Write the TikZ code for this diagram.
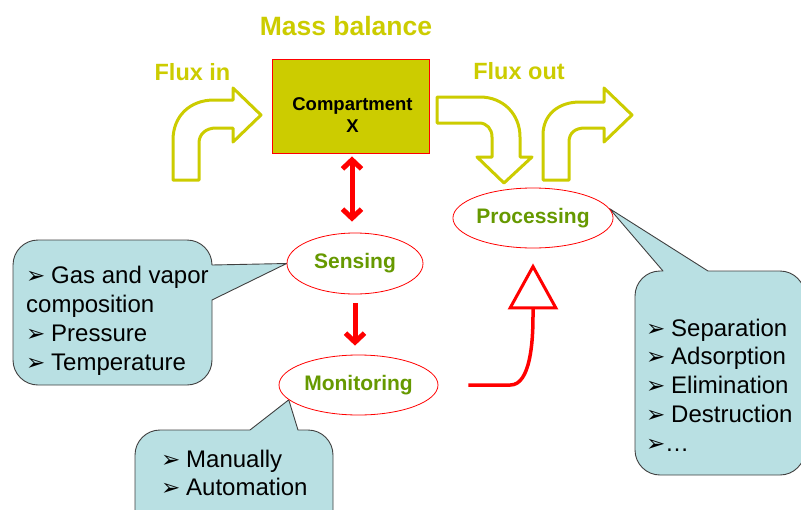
\documentclass[tikz,border=0pt]{standalone}
\usepackage{fontspec}
\setmainfont{Liberation Sans}
\newfontfamily\symfont{DejaVu Sans}
\usetikzlibrary{arrows.meta,shapes.geometric,backgrounds}

\definecolor{fluxyellow}{RGB}{204,204,0}
\definecolor{leafgreen}{RGB}{102,153,0}
\definecolor{calloutblue}{RGB}{185,224,227}

% arrowhead bullet used in the lists, in a box of fixed width
\newcommand\bul{\makebox[25pt][l]{\symfont\fontsize{23}{23}\selectfont ➢}}
\newcommand\bulnarrow{\makebox[19pt][l]{\symfont\fontsize{23}{23}\selectfont ➢}}

\begin{document}
\begin{tikzpicture}[x=1pt,y=-1pt,
  fluxarrow/.style={draw=fluxyellow, line width=3pt, fill=white, line join=round},
  heading/.style={anchor=base, inner sep=0, text=fluxyellow, font=\bfseries\fontsize{23.5}{28}\selectfont},
  ovalnode/.style={ellipse, draw=red, line width=0.8pt, fill=white, minimum height=60,
    inner sep=0, text=leafgreen, font=\bfseries\fontsize{21}{25}\selectfont},
  callout/.style={draw=black!75, line width=0.9pt, fill=calloutblue, line join=round},
  listtext/.style={anchor=base west, inner sep=0, font=\fontsize{24}{28}\selectfont},
  barb/.tip={Straight Barb[length=9pt,width=19pt]},
  redlink/.style={draw=red, line width=5pt, line join=round, arrows={-barb}},
]
\useasboundingbox (0,0) rectangle (801,509);
\clip (0,0) rectangle (801,509);

% ---- titles
\node[heading, font=\bfseries\fontsize{26.5}{30}\selectfont] (title) at (346,35) {Mass balance};
\node[heading] (fluxin) at (192.5,80) {Flux in};
\node[heading] (fluxout) at (519,79) {Flux out};

% ---- compartment
\node[draw=red, line width=0.8pt, fill=fluxyellow, minimum width=157, minimum height=94,
  inner sep=0] (comp) at (350.5,106) {};
\node[anchor=base, inner sep=0, font=\bfseries\fontsize{18.5}{22}\selectfont] (compname)
  at (352.5,110) {Compartment};
\node[anchor=base, inner sep=0, font=\bfseries\fontsize{18.5}{22}\selectfont] (compx)
  at (352.5,132) {X};

% ---- bent flux arrows
\path[fluxarrow] (173,180) -- (173,140) .. controls (173,116) and (190,100) .. (214,100)
  -- (233,100) -- (233,88) -- (261,115) -- (233,142) -- (233,128) -- (216,128)
  .. controls (206,128) and (199,134) .. (199,143) -- (199,180) -- cycle;
\path[fluxarrow] (437,97) -- (480,97) .. controls (503,97) and (520,114) .. (520,137)
  -- (520,157) -- (532,157) -- (504,183) -- (477,157) -- (492,157) -- (492,137)
  .. controls (492,129) and (487,123) .. (479,123) -- (437,123) -- cycle;
\path[fluxarrow] (543,180) -- (543,135) .. controls (543,115) and (558,102) .. (580,102)
  -- (604,102) -- (604,88) -- (632,115) -- (604,142) -- (604,128) -- (585,128)
  .. controls (575,128) and (569,133) .. (569,142) -- (569,180) -- cycle;

% ---- process ovals
\node[ovalnode, minimum width=136, minimum height=61] (sens) at (355,263.5) {Sensing};
\node[ovalnode, minimum width=159] (mon) at (358.5,385) {Monitoring};
\node[ovalnode, minimum width=160] (proc) at (533,218) {Processing};

% ---- red links
\draw[redlink, arrows={barb-barb}, shorten <=3pt, shorten >=11pt]
  ([xshift=1.5pt]comp.south) -- ([xshift=1.5pt]comp.south |- sens.north);
\draw[redlink, shorten <=9pt, shorten >=9pt] (sens.south) -- (sens.south |- mon.north);
\draw[draw=red, line width=3.5pt, line join=round,
  arrows={-Triangle[length=46pt,width=50pt,fill=white,line width=3pt]}]
  ([xshift=30pt]mon.east) -- ++(42,0)
  .. controls +(20,0) and +(0,25) .. ([yshift=-68pt]proc.south)
  -- ([yshift=-15pt]proc.south);

% ---- callouts (rounded boxes with pointers)
\begin{scope}[on background layer]
\path[callout] (13,265) .. controls (13,251.2) and (24.2,240) .. (38,240) -- (187,240)
  .. controls (200.8,240) and (212,251.2) .. (212,265) -- (sens.west) -- (212,300) -- (212,360)
  .. controls (212,373.8) and (200.8,385) .. (187,385) -- (38,385)
  .. controls (24.2,385) and (13,373.8) .. (13,360) -- cycle;
\path[callout] (135,455) .. controls (135,441.2) and (146.2,430) .. (160,430) -- (250,430)
  -- (mon.192) -- (298,430) -- (308,430) .. controls (321.8,430) and (333,441.2) .. (333,455)
  -- (333,530) -- (135,530) -- cycle;
\path[callout] (635,296) .. controls (635,282.2) and (646.2,271) .. (660,271) -- (663,271)
  -- (proc.7) -- (708,271) -- (780,271) .. controls (793.8,271) and (805,282.2) .. (805,296)
  -- (805,450) .. controls (805,463.8) and (793.8,475) .. (780,475) -- (660,475)
  .. controls (646.2,475) and (635,463.8) .. (635,450) -- cycle;
\end{scope}

% ---- list texts
\node[listtext] (s1) at (26,283) {\bul Gas and vapor};
\node[listtext] (s2) at (26,312) {composition};
\node[listtext] (s3) at (26,341) {\bul Pressure};
\node[listtext] (s4) at (26,370) {\bul Temperature};

\node[listtext] (m1) at (161,467) {\bul Manually};
\node[listtext] (m2) at (161,495) {\bul Automation};

\node[listtext] (p1) at (646,336) {\bul Separation};
\node[listtext] (p2) at (646,364) {\bul Adsorption};
\node[listtext] (p3) at (646,393) {\bul Elimination};
\node[listtext] (p4) at (646,422) {\bul Destruction};
\node[listtext] (p5) at (646,451) {\bulnarrow…};
\end{tikzpicture}
\end{document}
